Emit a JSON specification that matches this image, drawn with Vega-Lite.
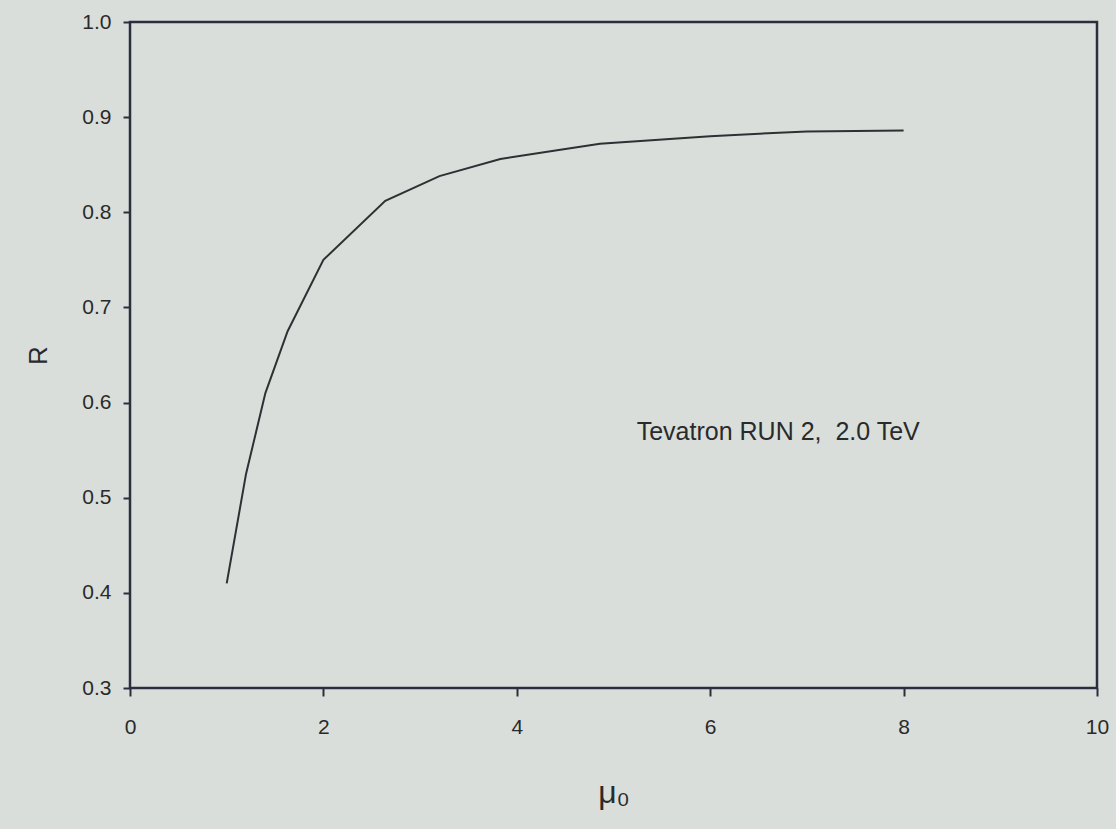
{
  "$schema": "https://vega.github.io/schema/vega-lite/v6.json",
  "width": 967,
  "height": 666,
  "autosize": {"type": "none"},
  "padding": {"left": 130, "top": 22, "right": 19, "bottom": 141},
  "background": "#d9dedb",
  "config": {
    "view": {"stroke": "#2b2e3f", "strokeWidth": 2.5, "fill": "#d9dedb"},
    "font": "Liberation Sans",
    "axis": {
      "grid": false,
      "domain": false,
      "tickColor": "#2b2e3f",
      "tickWidth": 2,
      "labelColor": "#2a2a2a",
      "labelFont": "Liberation Sans",
      "labelFontSize": 21,
      "titleColor": "#2a2a2a",
      "titleFont": "Liberation Sans",
      "titleFontWeight": "normal"
    }
  },
  "layer": [
    {
      "data": {
        "values": [
          {"mu0": 1.0, "R": 0.41},
          {"mu0": 1.2, "R": 0.525},
          {"mu0": 1.4, "R": 0.61},
          {"mu0": 1.63, "R": 0.675},
          {"mu0": 2.0, "R": 0.75},
          {"mu0": 2.64, "R": 0.812},
          {"mu0": 3.2, "R": 0.838},
          {"mu0": 3.83, "R": 0.856},
          {"mu0": 4.4, "R": 0.865},
          {"mu0": 4.86, "R": 0.872},
          {"mu0": 6.0, "R": 0.88},
          {"mu0": 7.0, "R": 0.885},
          {"mu0": 8.0, "R": 0.886}
        ]
      },
      "mark": {"type": "line", "color": "#2f3033", "strokeWidth": 2},
      "encoding": {
        "x": {
          "field": "mu0",
          "type": "quantitative",
          "scale": {"domain": [0, 10], "nice": false, "zero": false},
          "axis": {
            "values": [0, 2, 4, 6, 8, 10],
            "format": "d",
            "title": "μ₀",
            "titleFontSize": 32,
            "titlePadding": 40,
            "tickSize": 8,
            "labelPadding": 20,
            "labelFlush": false
          }
        },
        "y": {
          "field": "R",
          "type": "quantitative",
          "scale": {"domain": [0.3, 1.0], "nice": false, "zero": false},
          "axis": {
            "values": [0.3, 0.4, 0.5, 0.6, 0.7, 0.8, 0.9, 1.0],
            "format": ".1f",
            "title": "R",
            "titleFontSize": 26,
            "titlePadding": 30,
            "tickSize": 7,
            "labelPadding": 12,
            "labelFlush": false
          }
        }
      }
    },
    {
      "data": {"values": [{"mu0": 5.24, "R": 0.569, "label": "Tevatron RUN 2,\u00a0\u00a02.0 TeV"}]},
      "mark": {"type": "text", "align": "left", "baseline": "middle", "fontSize": 25, "color": "#2a2a2a", "font": "Liberation Sans"},
      "encoding": {
        "x": {"field": "mu0", "type": "quantitative"},
        "y": {"field": "R", "type": "quantitative"},
        "text": {"field": "label"}
      }
    }
  ]
}
